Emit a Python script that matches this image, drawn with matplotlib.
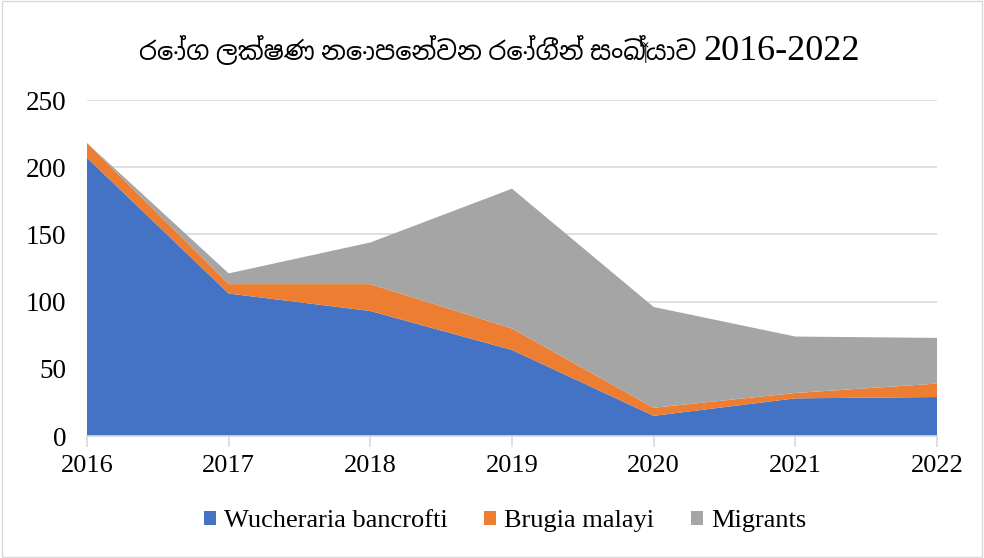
import matplotlib
matplotlib.use('Agg')
from matplotlib import pyplot as plt
from matplotlib import font_manager
from matplotlib.patches import Rectangle

years = [2016, 2017, 2018, 2019, 2020, 2021, 2022]
wuchereria = [207, 106, 93, 64, 15, 28, 29]
brugia = [11, 7, 20, 16, 6, 4, 10]
migrants = [0, 8, 31, 104, 75, 42, 34]
labels = ['Wucheraria bancrofti', 'Brugia malayi', 'Migrants']
colors = ['#4472c4', '#ed7d31', '#a5a5a5']
title_si = 'රෝග ලක්ෂණ නොපෙන්වන රෝගීන් සංඛ්‍යාව '
title_years = '2016-2022'

# look for anything that can draw Sinhala
sinhala = [f.name for f in font_manager.fontManager.ttflist if 'Sinhala' in f.name]
fam = ['Liberation Serif'] + sinhala + ['DejaVu Serif']
plt.rcParams['font.family'] = fam

fig = plt.figure(figsize=(9.84, 5.58), dpi=100)
ax = fig.add_axes([87 / 984, 1 - 436 / 558, 850 / 984, 336 / 558])

x = list(range(len(years)))
ax.stackplot(x, wuchereria, brugia, migrants, colors=colors, labels=labels,
             linewidth=0, zorder=2)

ax.set_xlim(0, len(years) - 1)
ax.set_ylim(0, 250)
ax.set_yticks(range(0, 251, 50))
ax.set_xticks(x)
ax.set_xticklabels([str(y) for y in years])
ax.grid(axis='y', color='#d9d9d9', linewidth=1.2, zorder=0)
for s in ['top', 'right', 'left']:
    ax.spines[s].set_visible(False)
ax.spines['bottom'].set_color('#d9d9d9')
ax.spines['bottom'].set_linewidth(1.2)
ax.tick_params(axis='y', length=0, labelsize=19.5, pad=15)
ax.tick_params(axis='x', length=8, color='#d9d9d9', width=1.2, labelsize=19, pad=6)

# title: Sinhala part + larger year range, sharing a baseline
tx, ty = 703 / 984, 1 - 60 / 558
fig.text(tx, ty, title_si, ha='right', va='baseline', fontsize=18.5)
fig.text(tx, ty, title_years, ha='left', va='baseline', fontsize=26)

fig.legend(loc='center', bbox_to_anchor=(505 / 984, 1 - 521 / 558), ncol=3,
           frameon=False, fontsize=19, handlelength=0.45, handleheight=0.45,
           columnspacing=1.4, handletextpad=0.3)

fig.patches.append(Rectangle((0.002, 0.002), 0.996, 0.996, transform=fig.transFigure,
                             fill=False, edgecolor='#d9d9d9', linewidth=1))

fig.savefig('out.png', dpi=100)
